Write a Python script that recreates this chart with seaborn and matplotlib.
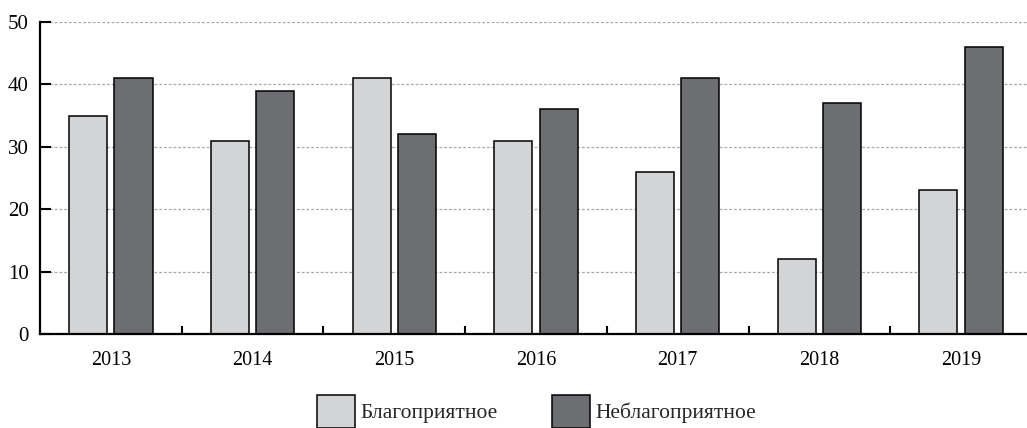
import matplotlib
matplotlib.use("Agg")
import matplotlib.pyplot as plt
import seaborn as sns
import pandas as pd
from matplotlib.patches import Patch
from matplotlib.ticker import FixedLocator

years = ["2013", "2014", "2015", "2016", "2017", "2018", "2019"]
favorable = [35, 31, 41, 31, 26, 12, 23]
unfavorable = [41, 39, 32, 36, 41, 37, 46]
series_names = ["Благоприятное", "Неблагоприятное"]
yticks = [0, 10, 20, 30, 40, 50]

colors = ["#d3d4d6", "#6d6e71"]

df = pd.DataFrame({
    "year": years * 2,
    "value": favorable + unfavorable,
    "series": [series_names[0]] * len(years) + [series_names[1]] * len(years),
})

sns.set_theme(style="white")
plt.rcParams["font.family"] = ["Liberation Serif", "DejaVu Serif"]

fig = plt.figure(figsize=(10.27, 4.28), dpi=100)
ax = fig.add_axes([40 / 1027, 94 / 428, 1 - 40 / 1027, (334 - 22) / 428])

sns.barplot(data=df, x="year", y="value", hue="series", order=years,
            hue_order=series_names, palette=colors, width=0.64, gap=0.16,
            edgecolor="black", linewidth=1.1, saturation=1, legend=False, ax=ax)

ax.set_xlim(-0.5, 6.465)
ax.set_ylim(0, 50)
ax.set_yticks(yticks)
ax.set_xlabel("")
ax.set_ylabel("")

for y in yticks[1:]:
    ax.axhline(y, color="#a8a8a8", linestyle=(0, (2.2, 1.6)), linewidth=0.9, zorder=0)

for s in ["top", "right"]:
    ax.spines[s].set_visible(False)
for s in ["left", "bottom"]:
    ax.spines[s].set_linewidth(1.6)
    ax.spines[s].set_color("black")

ax.tick_params(axis="y", direction="in", length=8, width=1.5, pad=8,
               labelsize=15, colors="black", left=True)
ax.tick_params(axis="x", which="major", length=0, pad=12, labelsize=14.5, colors="black")
ax.xaxis.set_minor_locator(FixedLocator([i + 0.5 for i in range(len(years) - 1)]))
ax.tick_params(axis="x", which="minor", direction="in", length=6, width=1.5,
               color="black", bottom=True)

handles = [Patch(facecolor=c, edgecolor="black", linewidth=1.1) for c in colors]
fig.legend(handles, series_names, loc="upper left", bbox_to_anchor=(317 / 1027, 1 - 395 / 428),
           ncol=2, frameon=False, fontsize=15.5, handlelength=1.77, handleheight=2.0,
           handletextpad=0.25, columnspacing=2.5, borderaxespad=0, borderpad=0)

fig.savefig("out.png", dpi=100)
